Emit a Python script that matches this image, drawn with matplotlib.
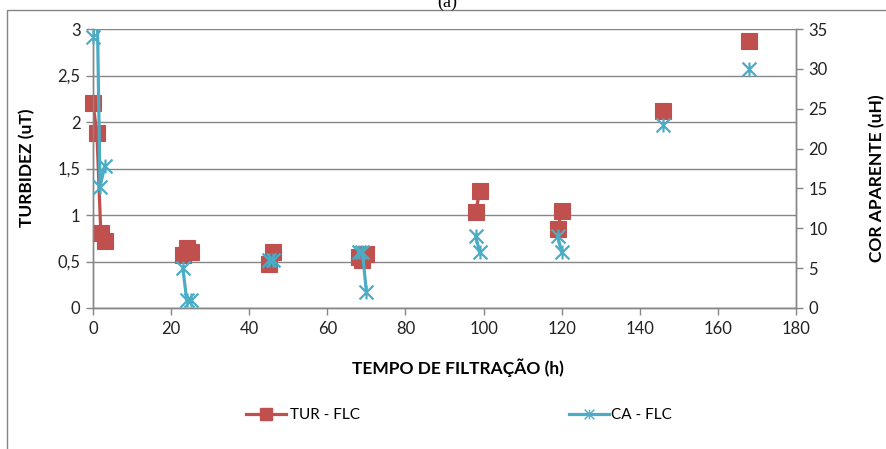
import numpy as np
import matplotlib
matplotlib.use("Agg")
import matplotlib.pyplot as plt
from matplotlib.path import Path
from matplotlib.patches import Rectangle
from matplotlib.lines import Line2D

plt.rcParams['font.family'] = ['Lato', 'DejaVu Sans']

# ---- data ----
tur_time = [0, 1, 2, 3, 23, 24, 25, 45, 46, 68, 69, 70, 98, 99, 119, 120, 146, 168]
tur_vals = [2.2, 1.88, 0.81, 0.72, 0.57, 0.64, 0.6, 0.47, 0.6, 0.55, 0.52, 0.58,
            1.03, 1.26, 0.85, 1.04, 2.12, 2.87]
tur_group = [0, 0, 0, 0, 1, 1, 1, 2, 2, 3, 3, 3, 4, 4, 5, 5, 6, 7]

ca_time = [0, 1, 1.8, 3, 23, 24, 25, 45, 46, 68, 69, 70, 98, 99, 119, 120, 146, 168]
ca_vals = [34, 40, 15.2, 17.8, 5, 1, 1, 6, 6, 7, 7, 2, 9, 7, 9, 7, 23, 30]
ca_group = [0, 0, 0, 0, 1, 1, 1, 2, 2, 3, 3, 3, 4, 4, 5, 5, 6, 7]

x_ticks = [0, 20, 40, 60, 80, 100, 120, 140, 160, 180]
left_ticks = [0, 0.5, 1, 1.5, 2, 2.5, 3]
left_labels = ['0', '0,5', '1', '1,5', '2', '2,5', '3']
right_ticks = [0, 5, 10, 15, 20, 25, 30, 35]

tur_label = 'TUR - FLC'
ca_label = 'CA - FLC'
title = '(a)'
xlabel = 'TEMPO DE FILTRAÇÃO (h)'
ylabel_left = 'TURBIDEZ (uT)'
ylabel_right = 'COR APARENTE (uH)'

# ---- style ----
RED = '#C0504D'
BLUE = '#4BACC6'
GRID = '#868686'
star = Path([(-1, -1), (1, 1), (-1, 1), (1, -1), (0, -1), (0, 1)],
            [Path.MOVETO, Path.LINETO, Path.MOVETO, Path.LINETO, Path.MOVETO, Path.LINETO])

W, H = 887, 449
fig = plt.figure(figsize=(W / 100, H / 100), dpi=100)
L, R, T, B = 93, 796, 29, 308
ax = fig.add_axes([L / W, 1 - B / H, (R - L) / W, (B - T) / H])
ax2 = ax.twinx()

# outer chart border
fig.patches.append(Rectangle((7 / W, -0.1), 1.2, 1 - 10 / H + 0.1, transform=fig.transFigure,
                             fill=False, edgecolor=GRID, linewidth=1.0, zorder=0))

ax.set_xlim(0, 180)
ax.set_ylim(0, 3)
ax2.set_ylim(0, 35)
ax.set_xticks(x_ticks)
ax.set_yticks(left_ticks)
ax.set_yticklabels(left_labels)
ax2.set_yticks(right_ticks)

ax.yaxis.grid(True, color=GRID, linewidth=1.0)
ax.set_axisbelow(True)
for a in (ax, ax2):
    a.spines['top'].set_visible(False)
    for s in ('left', 'right', 'bottom'):
        a.spines[s].set_color(GRID)
        a.spines[s].set_linewidth(1.0)
    a.tick_params(colors=GRID, labelcolor='#222222', labelsize=12, length=5, width=1.0,
                  direction='out')
ax.tick_params(axis='y', pad=4)
ax.tick_params(axis='x', pad=4)
ax2.tick_params(axis='y', pad=4)

# lines by group
tt = np.array(tur_time, float); tv = np.array(tur_vals, float); tg = np.array(tur_group)
ct = np.array(ca_time, float); cv = np.array(ca_vals, float); cg = np.array(ca_group)
for g in np.unique(tg):
    m = tg == g
    ax.plot(tt[m], tv[m], color=RED, linewidth=2.3, solid_capstyle='round', zorder=3)
ax.plot(tt, tv, linestyle='none', marker='s', markersize=11, markerfacecolor=RED,
        markeredgecolor=RED, markeredgewidth=0.8, zorder=4, clip_on=False)
for g in np.unique(cg):
    m = cg == g
    ax2.plot(ct[m], cv[m], color=BLUE, linewidth=2.3, solid_capstyle='round', zorder=3)
mask = cv <= 35
ax2.plot(ct[mask], cv[mask], linestyle='none', marker=star, markersize=10,
         markeredgecolor=BLUE, markerfacecolor='none', markeredgewidth=1.6, zorder=4, clip_on=False)

# texts
fig.text(447 / W, 1 - 7 / H, title, ha='center', va='baseline', fontsize=13, family='Liberation Serif')
fig.text(458 / W, 1 - 368 / H, xlabel, ha='center', va='center', fontsize=12.5, fontweight='bold')
fig.text(27 / W, 1 - 168 / H, ylabel_left, ha='center', va='center', rotation=90,
         fontsize=12.5, fontweight='bold')
fig.text(877 / W, 1 - 178 / H, ylabel_right, ha='center', va='center', rotation=90,
         fontsize=12.5, fontweight='bold')

# legend
h1 = Line2D([], [], color=RED, linewidth=2.3, marker='s', markersize=8, markerfacecolor=RED,
            markeredgecolor=RED)
h2 = Line2D([], [], color=BLUE, linewidth=2.3, marker=star, markersize=7, markeredgecolor=BLUE,
            markerfacecolor='none', markeredgewidth=1.0)
ly = 1 - 415 / H
fig.legend([h1], [tur_label], loc='center left', bbox_to_anchor=(246 / W, ly), frameon=False,
           fontsize=11, handlelength=2.6, handletextpad=0.3, borderpad=0, borderaxespad=0)
fig.legend([h2], [ca_label], loc='center left', bbox_to_anchor=(569 / W, ly), frameon=False,
           fontsize=11, handlelength=2.6, handletextpad=0.15, borderpad=0, borderaxespad=0)

fig.savefig('out.png', dpi=100)
